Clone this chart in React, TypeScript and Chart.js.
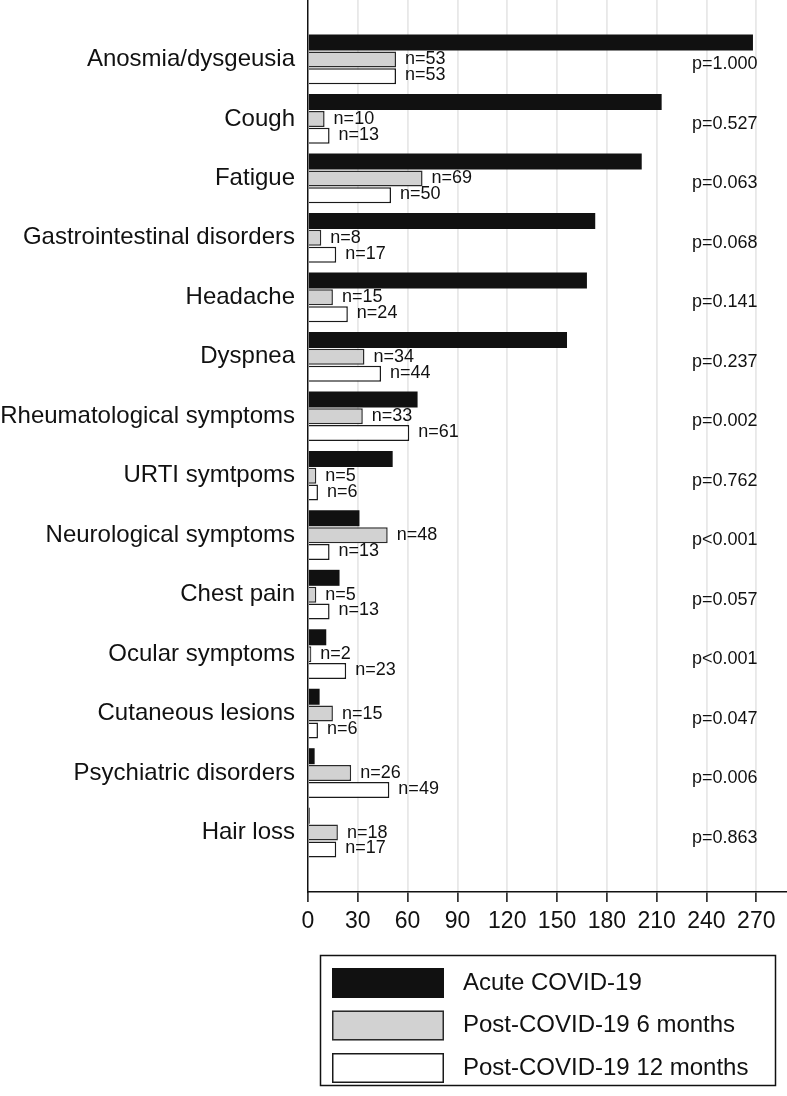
import React, { useEffect, useRef } from "react";
import { Chart, registerables } from "chart.js";

Chart.register(...registerables);

const categories = [
  "Anosmia/dysgeusia",
  "Cough",
  "Fatigue",
  "Gastrointestinal disorders",
  "Headache",
  "Dyspnea",
  "Rheumatological symptoms",
  "URTI symtpoms",
  "Neurological symptoms",
  "Chest pain",
  "Ocular symptoms",
  "Cutaneous lesions",
  "Psychiatric disorders",
  "Hair loss",
];

const acuteValues = [268, 213, 201, 173, 168, 156, 66, 51, 31, 19, 11, 7, 4, 1];
const sixMonthValues = [53, 10, 69, 8, 15, 34, 33, 5, 48, 5, 2, 15, 26, 18];
const twelveMonthValues = [53, 13, 50, 17, 24, 44, 61, 6, 13, 13, 23, 6, 49, 17];

const pValues = [
  "p=1.000",
  "p=0.527",
  "p=0.063",
  "p=0.068",
  "p=0.141",
  "p=0.237",
  "p=0.002",
  "p=0.762",
  "p<0.001",
  "p=0.057",
  "p<0.001",
  "p=0.047",
  "p=0.006",
  "p=0.863",
];

const seriesNames = ["Acute COVID-19", "Post-COVID-19 6 months", "Post-COVID-19 12 months"];
const xTickValues = [0, 30, 60, 90, 120, 150, 180, 210, 240, 270];
const xMax = 288.5;

const FONT = "'Liberation Sans', Arial, Helvetica, sans-serif";

const pad = (arr: (number | null)[]) => [null, ...arr, null];

const annotatePlugin = {
  id: "annotate",
  afterDatasetsDraw(chart: any) {
    const ctx = chart.ctx;
    const area = chart.chartArea;
    ctx.save();
    ctx.font = `18px ${FONT}`;
    ctx.fillStyle = "#111";
    ctx.textAlign = "left";
    ctx.textBaseline = "middle";
    [1, 2].forEach((di) => {
      const meta = chart.getDatasetMeta(di);
      const data = chart.data.datasets[di].data;
      meta.data.forEach((el: any, i: number) => {
        const v = data[i];
        if (v === null || v === undefined) return;
        const yOff = di === 2 ? -1 : 0;
        ctx.fillText(`n=${v}`, el.x + 9, el.y + yOff);
      });
    });
    const yScale = chart.scales.y;
    pValues.forEach((p, i) => {
      const y = yScale.getPixelForValue(i + 1);
      ctx.fillText(p, area.right - 95, y + 5);
    });
    ctx.restore();
  },
  afterDraw(chart: any) {
    const ctx = chart.ctx;
    ctx.save();
    ctx.lineWidth = 1.5;
    ctx.strokeStyle = "#111";
    ctx.strokeRect(320.5, 955.5, 455, 130);
    const tops = [968, 1010.5, 1053];
    chart.data.datasets.forEach((ds: any, i: number) => {
      const top = tops[i];
      ctx.fillStyle = ds.backgroundColor;
      ctx.fillRect(332, top, 112, 30);
      if (ds.borderWidth) {
        ctx.lineWidth = 1.5;
        ctx.strokeStyle = ds.borderColor;
        ctx.strokeRect(332.75, top + 0.75, 110.5, 28.5);
      }
      ctx.fillStyle = "#111";
      ctx.font = `24px ${FONT}`;
      ctx.textAlign = "left";
      ctx.textBaseline = "middle";
      ctx.fillText(ds.label, 463, top + 15);
    });
    ctx.restore();
  },
};

export default function App() {
  const canvasRef = useRef<HTMLCanvasElement | null>(null);

  useEffect(() => {
    if (!canvasRef.current) return;
    Chart.defaults.font.family = FONT;
    const chart = new Chart(canvasRef.current, {
      type: "bar",
      data: {
        labels: ["", ...categories, ""],
        datasets: [
          {
            label: seriesNames[0],
            data: pad(acuteValues),
            backgroundColor: "#111111",
            borderWidth: 0,
          },
          {
            label: seriesNames[1],
            data: pad(sixMonthValues),
            backgroundColor: "#d2d2d2",
            borderColor: "#2a2a2a",
            borderWidth: 1.5,
          },
          {
            label: seriesNames[2],
            data: pad(twelveMonthValues),
            backgroundColor: "#ffffff",
            borderColor: "#1a1a1a",
            borderWidth: 1.5,
          },
        ] as any,
      },
      options: {
        indexAxis: "y",
        responsive: false,
        animation: false,
        layout: { padding: 0 },
        datasets: {
          bar: {
            categoryPercentage: 0.85,
            barPercentage: 0.95,
          },
        },
        plugins: {
          legend: { display: false },
          tooltip: { enabled: false },
        },
        scales: {
          x: {
            type: "linear",
            min: 0,
            max: xMax,
            afterBuildTicks(scale: any) {
              scale.ticks = xTickValues.map((v) => ({ value: v }));
            },
            afterFit(scale: any) {
              scale.height = 1096 - 892;
              scale.paddingLeft = 0;
              scale.paddingRight = 0;
            },
            ticks: {
              autoSkip: false,
              maxRotation: 0,
              padding: 6,
              color: "#111",
              font: { size: 23, family: FONT },
            },
            grid: {
              color: (c: any) => (c.tick && c.tick.value !== 0 ? "#e8e8e8" : "transparent"),
              lineWidth: 1.8,
              tickColor: "#111",
              tickLength: 10,
              tickWidth: 1.5,
            },
            border: { display: true, color: "#111", width: 1.5 },
          },
          y: {
            type: "category",
            offset: false,
            afterFit(scale: any) {
              scale.width = 308;
              scale.paddingTop = 0;
              scale.paddingBottom = 0;
            },
            ticks: {
              autoSkip: false,
              padding: 13,
              color: "#111",
              font: { size: 24, family: FONT },
            },
            grid: { color: "transparent", drawTicks: false },
            border: { display: true, color: "#111", width: 1.5 },
          },
        },
      } as any,
      plugins: [annotatePlugin],
    });
    return () => chart.destroy();
  }, []);

  return (
    <div style={{ position: "absolute", left: 0, top: 0, width: 787, height: 1096 }}>
      <canvas ref={canvasRef} width={787} height={1096} style={{ display: "block" }} />
    </div>
  );
}
